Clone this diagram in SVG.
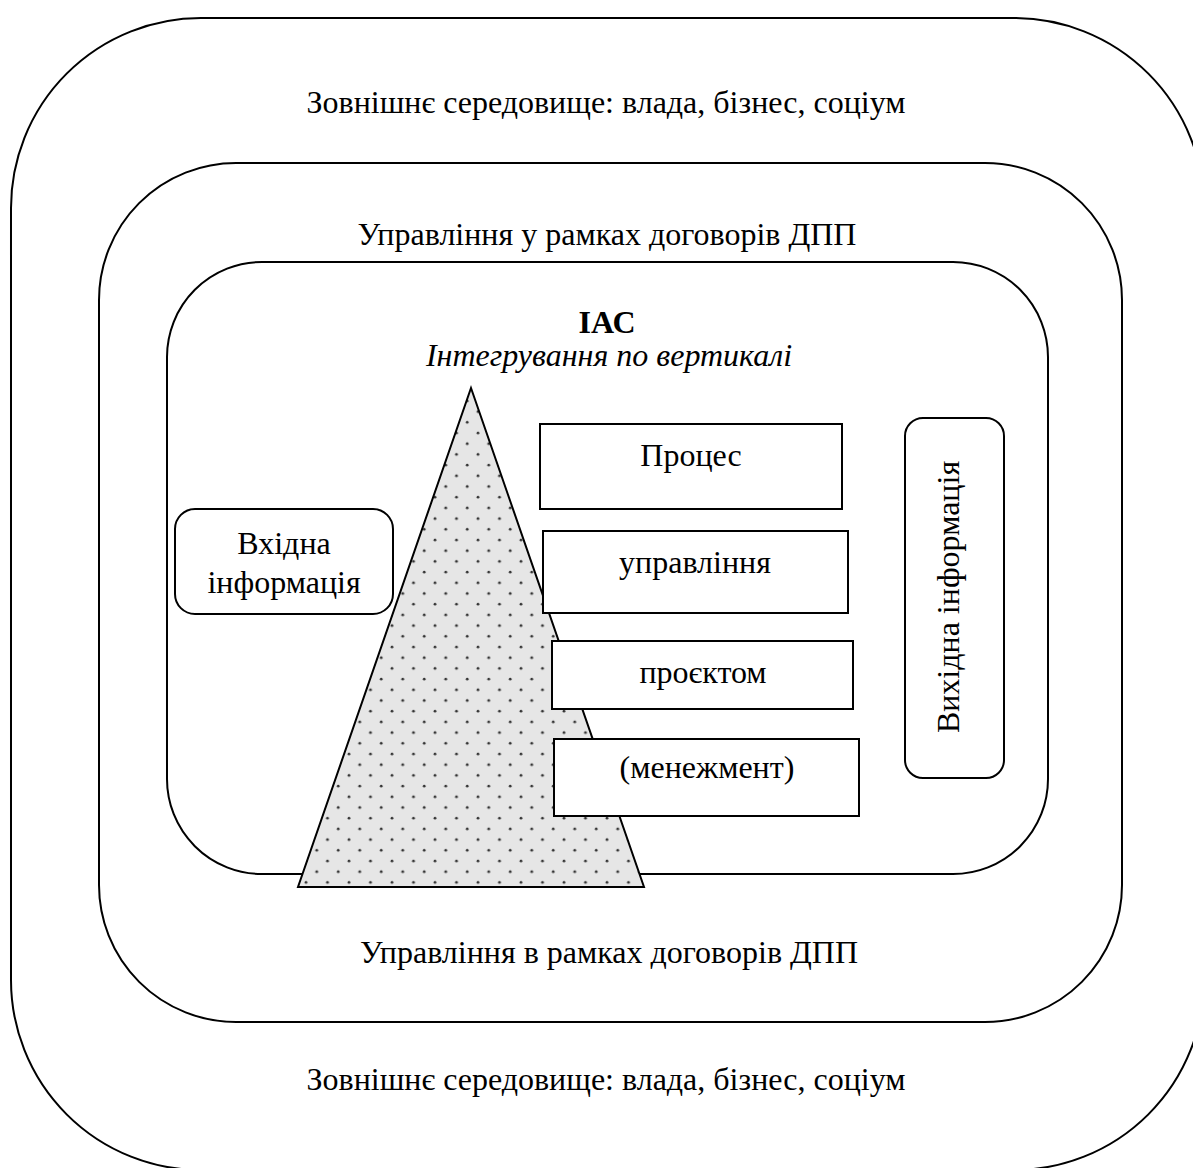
<svg xmlns="http://www.w3.org/2000/svg" width="1193" height="1168" viewBox="0 0 1193 1168">
<defs>
<style>
.frame{fill:none;stroke:#000;stroke-width:2}
.box{fill:#fff;stroke:#000;stroke-width:2}
text{font-family:'Liberation Serif','DejaVu Serif',serif;font-size:32px;fill:#000;text-anchor:middle}
</style>
<pattern id="dots" x="0" y="0" width="21.5" height="21.4" patternUnits="userSpaceOnUse">
<rect width="21.5" height="21.4" fill="#e6e6e6"/>
<circle cx="5" cy="5" r="1.4" fill="#333"/>
<circle cx="15.75" cy="15.7" r="1.4" fill="#333"/>
</pattern>
</defs>
<rect width="1193" height="1168" fill="#fff"/>
<g id="outer">
<rect class="frame" x="11" y="18" width="1193" height="1152" rx="190" ry="190"/>
<text x="606" y="113">Зовнішнє середовище: влада, бізнес, соціум</text>
<text x="606" y="1090">Зовнішнє середовище: влада, бізнес, соціум</text>
</g>
<g id="middle">
<rect class="frame" x="99" y="163" width="1023" height="859" rx="137" ry="137"/>
<text x="607" y="245">Управління у рамках договорів ДПП</text>
<text x="609" y="963">Управління в рамках договорів ДПП</text>
</g>
<g id="inner">
<rect class="frame" x="167" y="262" width="881" height="612" rx="95" ry="95"/>
<text x="607" y="333" font-weight="bold">ІАС</text>
<text x="609" y="366" font-style="italic">Інтегрування по вертикалі</text>
</g>
<g id="pyramid">
<polygon points="471,388 644,887 298,887" fill="url(#dots)" stroke="#000" stroke-width="2"/>
</g>
<g id="input">
<rect class="box" x="175" y="509" width="218" height="105" rx="20" ry="20"/>
<text x="284" y="554">Вхідна</text>
<text x="284" y="593">інформація</text>
</g>
<g id="box1">
<rect class="box" x="540" y="424" width="302" height="85"/>
<text x="691" y="466">Процес</text>
</g>
<g id="box2">
<rect class="box" x="543" y="531" width="305" height="82"/>
<text x="695" y="573">управління</text>
</g>
<g id="box3">
<rect class="box" x="552" y="641" width="301" height="68"/>
<text x="703" y="683">проєктом</text>
</g>
<g id="box4">
<rect class="box" x="554" y="739" width="305" height="77"/>
<text x="707" y="778">(менежмент)</text>
</g>
<g id="output">
<rect class="box" x="905" y="418" width="99" height="360" rx="18" ry="18"/>
<text transform="translate(959,597) rotate(-90)" x="0" y="0">Вихідна інформація</text>
</g>
<g id="connectors"></g>
</svg>
